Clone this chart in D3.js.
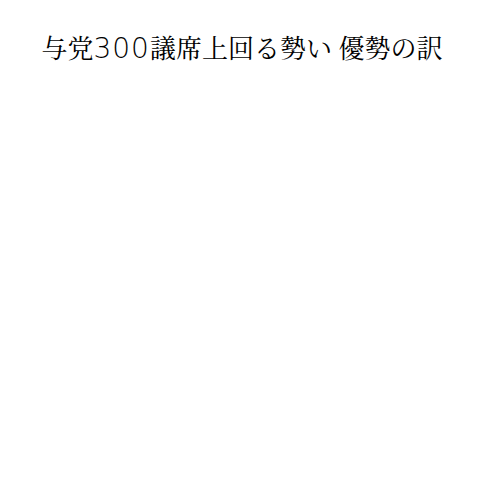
<!DOCTYPE html>
<html>
<head>
<meta charset="utf-8">
<script src="https://cdn.jsdelivr.net/npm/d3@7"></script>
<style>
  html, body { margin: 0; padding: 0; background: #fff; }
</style>
</head>
<body>
<div id="chart"></div>
<script>
// Title split into runs so the digit run can be styled like the reference
const titleParts = ["与党", "300", "議席上回る勢い 優勢の訳"];
const categories = [];
const values = [];

const width = 500, height = 500;
const svg = d3.select("#chart").append("svg")
  .attr("width", width).attr("height", height);

svg.append("rect").attr("width", width).attr("height", height).attr("fill", "#fff");

const title = svg.append("text")
  .attr("x", 242)
  .attr("y", 58)
  .attr("text-anchor", "middle")
  .attr("font-family", "'Noto Serif CJK JP', 'IPAMincho', serif")
  .attr("font-size", 26)
  .attr("fill", "#000");

title.selectAll("tspan")
  .data(titleParts)
  .join("tspan")
  .attr("font-family", (d, i) => i === 1 ? "'DejaVu Sans', sans-serif" : null)
  .attr("font-weight", (d, i) => i === 1 ? 200 : null)
  .attr("font-size", (d, i) => i === 1 ? 28 : null)
  .attr("letter-spacing", (d, i) => i === 1 ? 1 : 0)
  .text(d => d);
</script>
</body>
</html>
